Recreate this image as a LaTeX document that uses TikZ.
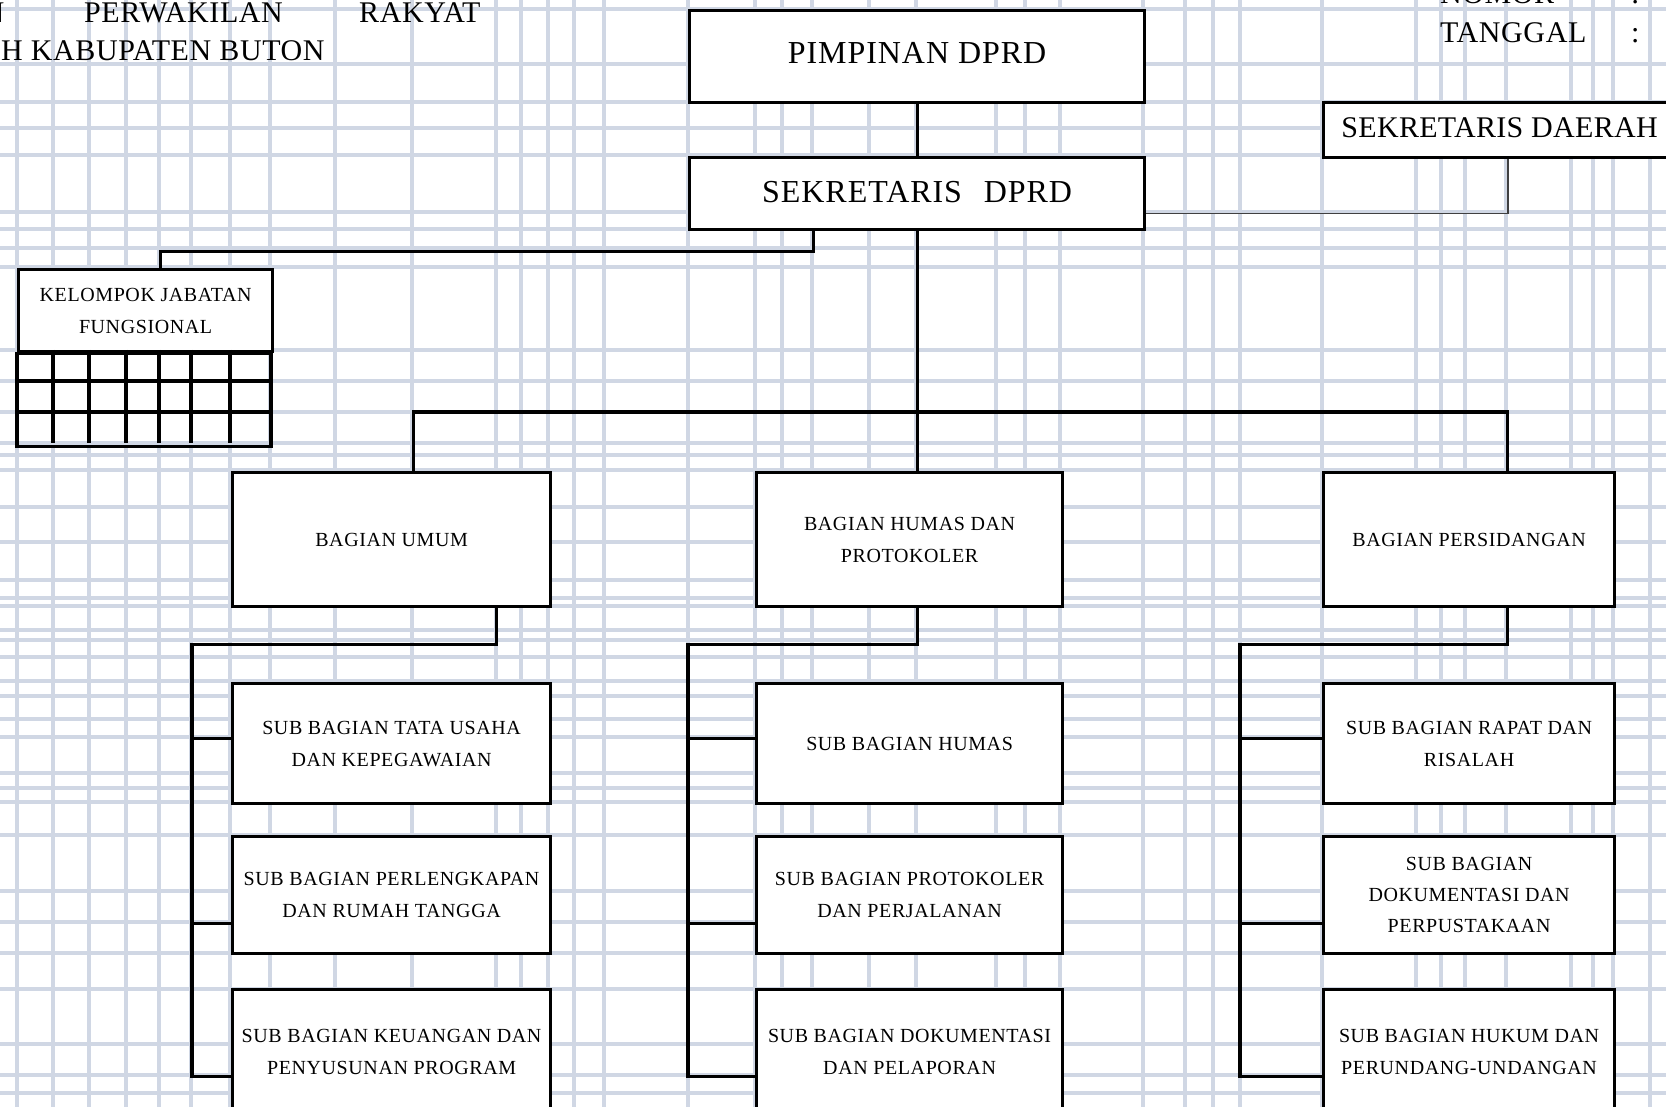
\documentclass[tikz,border=0pt]{standalone}
\usepackage{fontspec}
\setmainfont{Liberation Serif}
\usetikzlibrary{positioning}
\definecolor{gridcolor}{RGB}{208,215,228}

\begin{document}
\begin{tikzpicture}[x=1pt, y=-1pt,
    box/.style={rectangle, draw, line width=3.2pt, fill=white, inner sep=0pt, anchor=north west, align=center, font=\fontsize{20}{32}\selectfont\addfontfeature{LetterSpace=3}},
    bigbox/.style={box, font=\fontsize{32}{36}\selectfont\addfontfeature{LetterSpace=3}},
    conn/.style={line width=3.2pt},
    head/.style={inner sep=0pt, anchor=base west, font=\fontsize{30}{36}\selectfont\addfontfeature{LetterSpace=2}},
]
    \useasboundingbox (0,0) rectangle (1666,1107);
    \clip (0,0) rectangle (1666,1107);

    % Background table grid
    \foreach \gx in {17,53,89,126,159,191,230,270,335,412,496,521,548,574,604,688,755,782,812,869,916,996,1025,1060,1143,1185,1213,1240,1322,1416,1441,1465,1506,1571,1593,1613,1650} {
        \draw[gridcolor, line width=3.6pt] (\gx,0) -- (\gx,1107);
    }
    \foreach \gy in {9,64,102,128,155,212,229,248,267,350,381,412,443,455,470,507,542,580,598,606,630,640,657,681,696,719,737,773,788,802,835,891,922,953,989,1044,1075,1093} {
        \draw[gridcolor, line width=3.6pt] (0,\gy) -- (1666,\gy);
    }

    % Header
    \node[head] (dewan) at (-17.5,23) {N};
    \node[head] (perwakilan) at (84,23) {PERWAKILAN};
    \node[head] (rakyat) at (359,23) {RAKYAT};
    \node[head] (buton) at (1,61) {H KABUPATEN BUTON};
    \node[head] (nomor) at (1440,4) {NOMOR};
    \node[head] (nomorsep) at (1631,4) {:};
    \node[head] (tanggal) at (1440,43) {TANGGAL};
    \node[head] (tanggalsep) at (1631,43) {:};

    % Top level
    \node[bigbox, text depth=8pt, minimum width=455, minimum height=92] (pimpinan) at (688,9) {PIMPINAN DPRD};
    \node[bigbox, text depth=4pt, minimum width=455, minimum height=72] (sekdprd) at (688,156) {SEKRETARIS\hspace{0.4em} DPRD};
    \node[box, font=\fontsize{30}{36}\selectfont\addfontfeature{LetterSpace=1}, text depth=5pt, minimum width=352, minimum height=55] (sekda) at (1322,101) {SEKRETARIS DAERAH};

    % Kelompok jabatan fungsional
    \node[box, minimum width=254, minimum height=82] (kjf) at (17,268) {KELOMPOK JABATAN\\FUNGSIONAL};
    \draw[conn] (kjf.south west) rectangle ++(254,93);
    \foreach \cx in {53,89,126,159,191,230} {
        \draw[conn] (\cx,350) -- (\cx,443);
    }
    \foreach \cy in {381,412} {
        \draw[conn] (17,\cy) -- (271,\cy);
    }

    % Bagian
    \node[box, minimum width=318, minimum height=134] (umum) at (231,471) {BAGIAN UMUM};
    \node[box, minimum width=306, minimum height=134] (humas) at (755,471) {BAGIAN HUMAS DAN\\PROTOKOLER};
    \node[box, minimum width=291, minimum height=134] (sidang) at (1322,471) {BAGIAN PERSIDANGAN};

    % Sub bagian
    \node[box, minimum width=318, minimum height=120] (umum1) at (231,682) {SUB BAGIAN TATA USAHA\\DAN KEPEGAWAIAN};
    \node[box, minimum width=318, minimum height=117] (umum2) at (231,835) {SUB BAGIAN PERLENGKAPAN\\DAN RUMAH TANGGA};
    \node[box, minimum width=318, minimum height=124] (umum3) at (231,988) {SUB BAGIAN KEUANGAN DAN\\PENYUSUNAN PROGRAM};
    \node[box, minimum width=306, minimum height=120] (humas1) at (755,682) {SUB BAGIAN HUMAS};
    \node[box, minimum width=306, minimum height=117] (humas2) at (755,835) {SUB BAGIAN PROTOKOLER\\DAN PERJALANAN};
    \node[box, minimum width=306, minimum height=124] (humas3) at (755,988) {SUB BAGIAN DOKUMENTASI\\DAN PELAPORAN};
    \node[box, minimum width=291, minimum height=120] (sidang1) at (1322,682) {SUB BAGIAN RAPAT DAN\\RISALAH};
    \node[box, minimum width=291, minimum height=117, font=\fontsize{20}{31}\selectfont\addfontfeature{LetterSpace=3}] (sidang2) at (1322,835) {SUB BAGIAN\\DOKUMENTASI DAN\\PERPUSTAKAAN};
    \node[box, minimum width=291, minimum height=124] (sidang3) at (1322,988) {SUB BAGIAN HUKUM DAN\\PERUNDANG-UNDANGAN};

    % Connectors
    \coordinate (bus) at (916,412);
    \draw[conn] (pimpinan.south) -- (sekdprd.north);
    \draw[conn] (sekdprd.south) -- (sekdprd.south |- humas.north);
    \draw[conn] ([xshift=22pt]umum.north) |- (bus) -| ([xshift=38.5pt]sidang.north);
    \draw[conn] (sekdprd.south) ++(-104,0) -- ++(0,20) -| ([xshift=15pt]kjf.north);
    \draw[line width=1.8pt, black!75] ([yshift=-20pt]sekdprd.east) -| ([xshift=8pt]sekda.south);

    \foreach \col/\stub/\arm in {umum/105pt/39pt, humas/8pt/67pt, sidang/38.5pt/82pt} {
        \draw[conn] ([xshift=\stub]\col.south) -- ++(0,36) -| ([xshift=-\arm, yshift=-25pt]\col3.west) -- ([yshift=-25pt]\col3.west);
        \draw[conn] ([xshift=-\arm, yshift=5pt]\col1.west) -- ([yshift=5pt]\col1.west);
        \draw[conn] ([xshift=-\arm, yshift=-28.5pt]\col2.west) -- ([yshift=-28.5pt]\col2.west);
    }
\end{tikzpicture}
\end{document}
